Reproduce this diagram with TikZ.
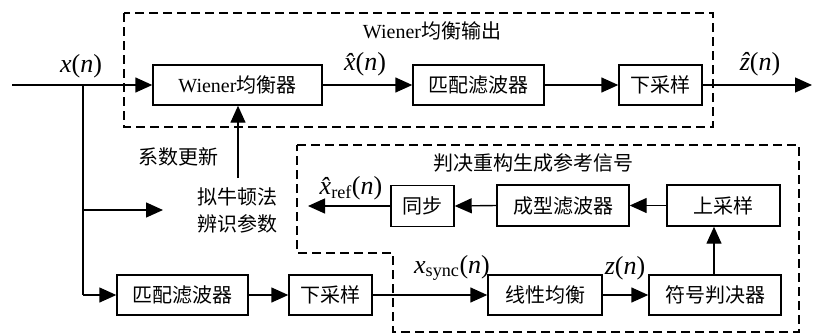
\documentclass[tikz,border=0pt]{standalone}
\usepackage{amsmath}
\usepackage{fontspec}
\setmainfont{Liberation Serif}
\newfontfamily\cjk{Noto Sans CJK SC}
\usetikzlibrary{arrows.meta}
\newcommand\zh[1]{{\cjk #1}}
\newcommand\iv[1]{\hbox{\itshape #1}}
\begin{document}
\begin{tikzpicture}[x=1pt,y=-1pt,
  blk/.style={draw, line width=1.4pt, minimum height=40pt, inner sep=0pt, font=\fontsize{20}{23}\selectfont},
  arr/.style={line width=1.4pt, -{Triangle[length=17pt,width=15pt]}},
  ln/.style={line width=1.4pt},
  dbox/.style={line width=1.4pt, dash pattern=on 9pt off 5pt},
  lbl/.style={font=\fontsize{26}{29}\selectfont, inner sep=0pt},
  txt/.style={font=\fontsize{20}{23}\selectfont, inner sep=0pt, align=center}]
\useasboundingbox (0,0) rectangle (814,333);
% dashed boxes
\draw[dbox] (124,13) rectangle (713,127);
\draw[dbox] (297,145) -- (799,145) -- (799,332) -- (393,332) -- (393,253) -- (297,253) -- cycle;
% blocks
\node[blk, minimum width=169pt] (wien) at (237.5,85) {Wiener\zh{均衡器}};
\node[blk, minimum width=131pt] (mf1) at (478.5,85) {\zh{匹配滤波器}};
\node[blk, minimum width=83pt] (ds1) at (660.5,85) {\zh{下采样}};
\node[blk, minimum width=63pt, minimum height=41pt] (syn) at (422.5,206) {\zh{同步}};
\node[blk, minimum width=132pt, minimum height=41pt] (shp) at (563,205.5) {\zh{成型滤波器}};
\node[blk, minimum width=113pt, minimum height=41pt] (ups) at (723.5,205.5) {\zh{上采样}};
\node[blk, minimum width=131pt] (mf2) at (182.5,295) {\zh{匹配滤波器}};
\node[blk, minimum width=83pt] (ds2) at (330.5,295) {\zh{下采样}};
\node[blk, minimum width=114pt] (leq) at (545,295) {\zh{线性均衡}};
\node[blk, minimum width=132pt] (dec) at (715,295) {\zh{符号判决器}};
% texts
\node[txt] (t1) at (432,31) {Wiener\zh{均衡输出}};
\node[txt] (t2) at (533,163) {\zh{判决重构生成参考信号}};
\node[txt] (t3) at (178,157) {\zh{系数更新}};
\node[txt] (t4) at (237,210) {\zh{拟牛顿法}\\[4pt]\zh{辨识参数}};
% labels
\node[lbl] (lx) at (81,66) {\iv{x}(\iv{n})};
\node[lbl] (lxh) at (365,64) {\iv{x̂}(\iv{n})};
\node[lbl] (lz) at (760,64) {\iv{ẑ}(\iv{n})};
\node[lbl] (lref) at (351,188) {$\iv{x̂}_{\text{ref}}$(\iv{n})};
\node[lbl] (lsync) at (452,268) {$\iv{x}_{\text{sync}}$(\iv{n})};
\node[lbl] (lzn) at (625,268) {\iv{z}(\iv{n})};
% coordinates
\coordinate (in) at (12,85);
\coordinate (br) at (83,85);
\coordinate (brm) at (83,210);
\coordinate (brb) at (83,295);
\coordinate (mid) at (163,210);
\coordinate (upd) at (238,178);
\coordinate (out) at (812,85);
\coordinate (ref) at (308,206);
% connectors
\draw[arr] (in) -- (wien.west);
\draw[ln] (br) -- (brb);
\draw[arr] (brb) -- (mf2.west);
\draw[arr] (brm) -- (mid);
\draw[arr] (upd) -- (upd |- wien.south);
\draw[arr] (wien.east) -- (mf1.west);
\draw[arr] (mf1.east) -- (ds1.west);
\draw[arr] (ds1.east) -- (out);
\draw[arr] (mf2.east) -- (ds2.west);
\draw[arr] (ds2.east) -- (leq.west);
\draw[arr] (leq.east) -- (dec.west);
\draw[arr] ([xshift=-1pt]dec.north) -- ([xshift=-1pt]dec.north |- ups.south);
\draw[arr] (ups.west) -- (shp.east);
\draw[arr] (shp.west) -- (syn.east);
\draw[arr] (syn.west) -- (ref);
\end{tikzpicture}
\end{document}
